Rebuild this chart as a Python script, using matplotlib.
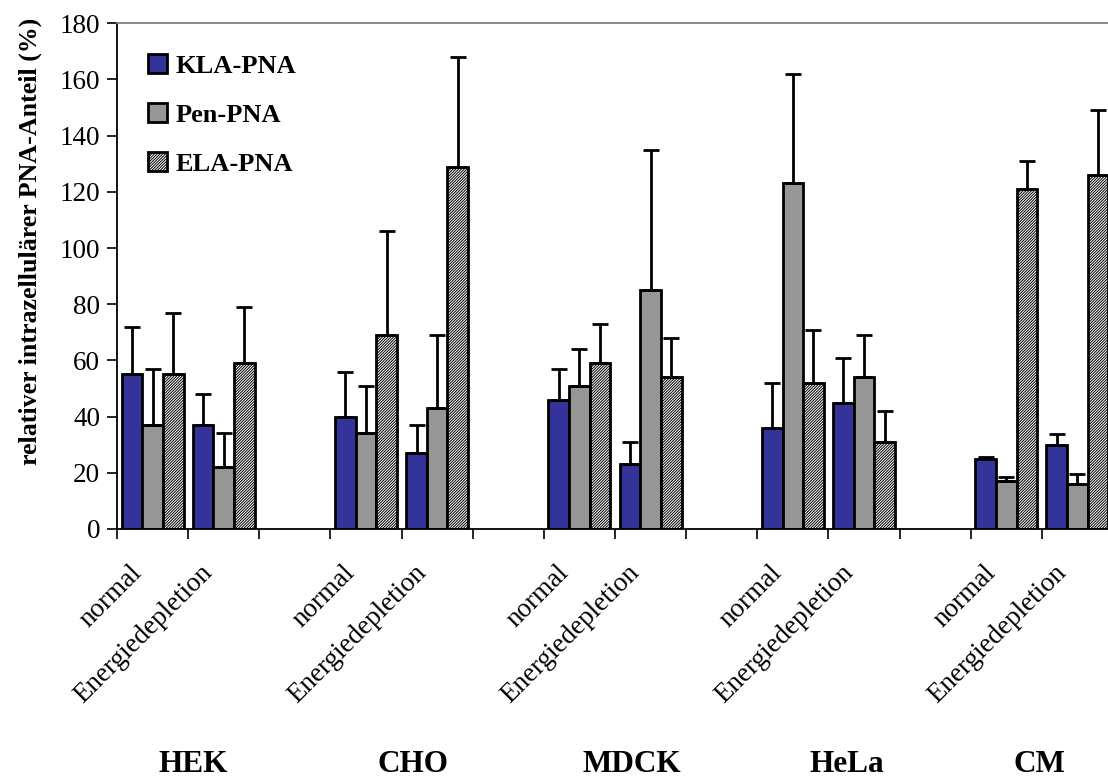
import numpy as np
import matplotlib
matplotlib.use("Agg")
import matplotlib.pyplot as plt

plt.rcParams['font.family'] = ['Liberation Serif', 'DejaVu Serif']
plt.rcParams['hatch.linewidth'] = 0.7
plt.rcParams['hatch.color'] = '#303030'

cell_types = ["HEK", "CHO", "MDCK", "HeLa", "CM"]
conditions = ["normal", "Energiedepletion"]
series_names = ["KLA-PNA", "Pen-PNA", "ELA-PNA"]

# values per (cell type, condition): order HEK-n, HEK-E, CHO-n, CHO-E, ...
kla_vals = [55, 37, 40, 27, 46, 23, 36, 45, 25, 30]
kla_top = [72, 48, 56, 37, 57, 31, 52, 61, 25.7, 33.7]
pen_vals = [37, 22, 34, 43, 51, 85, 123, 54, 17, 16]
pen_top = [57, 34, 51, 69, 64, 135, 162, 69, 18.5, 19.6]
ela_vals = [55, 59, 69, 129, 59, 54, 52, 31, 121, 126]
ela_top = [77, 79, 106, 168, 73, 68, 71, 42, 131, 149]

yticks = [0, 20, 40, 60, 80, 100, 120, 140, 160, 180]

W, H = 1108, 781
fig = plt.figure(figsize=(W / 100, H / 100), dpi=100)
x0, x1 = 117, 1113
y0, y1 = 529, 23.3
ax = fig.add_axes([x0 / W, 1 - y0 / H, (x1 - x0) / W, (y0 - y1) / H])

# slot positions: two slots per cell type plus one empty slot
slots = []
for g in range(len(cell_types)):
    slots += [3 * g + 0.5, 3 * g + 1.5]
slots = np.array(slots)

bw = 0.29
colors = ["#333399", "#969696", "white"]
hatches = [None, None, "////////////"]
vals = [kla_vals, pen_vals, ela_vals]
tops = [kla_top, pen_top, ela_top]
handles = []
for k in range(3):
    xs = slots + (k - 1) * bw
    v = np.array(vals[k], dtype=float)
    t = np.array(tops[k], dtype=float)
    b = ax.bar(xs, v, width=bw, color=colors[k], edgecolor="black",
               linewidth=2.0, hatch=hatches[k], zorder=2,
               label=series_names[k])
    handles.append(b)
    err = np.vstack([np.zeros_like(v), t - v])
    ax.errorbar(xs, v, yerr=err, fmt="none", ecolor="black",
                elinewidth=2.0, capsize=5.5, capthick=2.0, zorder=3)

ax.set_xlim(0, 14)
ax.set_ylim(0, 180)
ax.set_yticks(yticks)
ax.set_yticklabels([str(t) for t in yticks], fontsize=19.5)
ax.set_xticks(np.arange(0, 15))
ax.set_xticklabels([])
ax.tick_params(axis="both", direction="out", length=7, width=1.2, colors="black")
ax.tick_params(axis="y", pad=5)
for s in ["left", "bottom"]:
    ax.spines[s].set_linewidth(1.3)
    ax.spines[s].set_color("black")
ax.spines["top"].set_color("#808080")
ax.spines["top"].set_linewidth(1.3)
ax.spines["right"].set_visible(False)

# rotated category labels
for i, xs in enumerate(slots):
    lab = conditions[i % 2]
    ax.text(xs - 0.33, -11, lab, rotation=45, ha="right", va="top",
            rotation_mode="anchor", fontsize=19.5, transform=ax.transData,
            clip_on=False)

# group labels
grp_px = [193, 413, 632, 847, 1039]
for name, px in zip(cell_types, grp_px):
    fig.text(px / W, 1 - 765 / H, name, ha="center", va="center",
             fontsize=22.5, fontweight="bold")

fig.text(30 / W, 1 - 241 / H, "relativer intrazellulärer PNA-Anteil (%)",
         rotation=90, ha="center", va="center", fontsize=18.6,
         fontweight="bold")

leg = ax.legend(handles=handles, loc="upper left",
                bbox_to_anchor=(20 / (x1 - x0), 1 - 20 / (y0 - y1)),
                frameon=False, prop={"size": 19, "weight": "bold"},
                handlelength=0.75, handleheight=0.75, handletextpad=0.3,
                labelspacing=0.95, borderaxespad=0)

fig.savefig("out.png", dpi=100)
